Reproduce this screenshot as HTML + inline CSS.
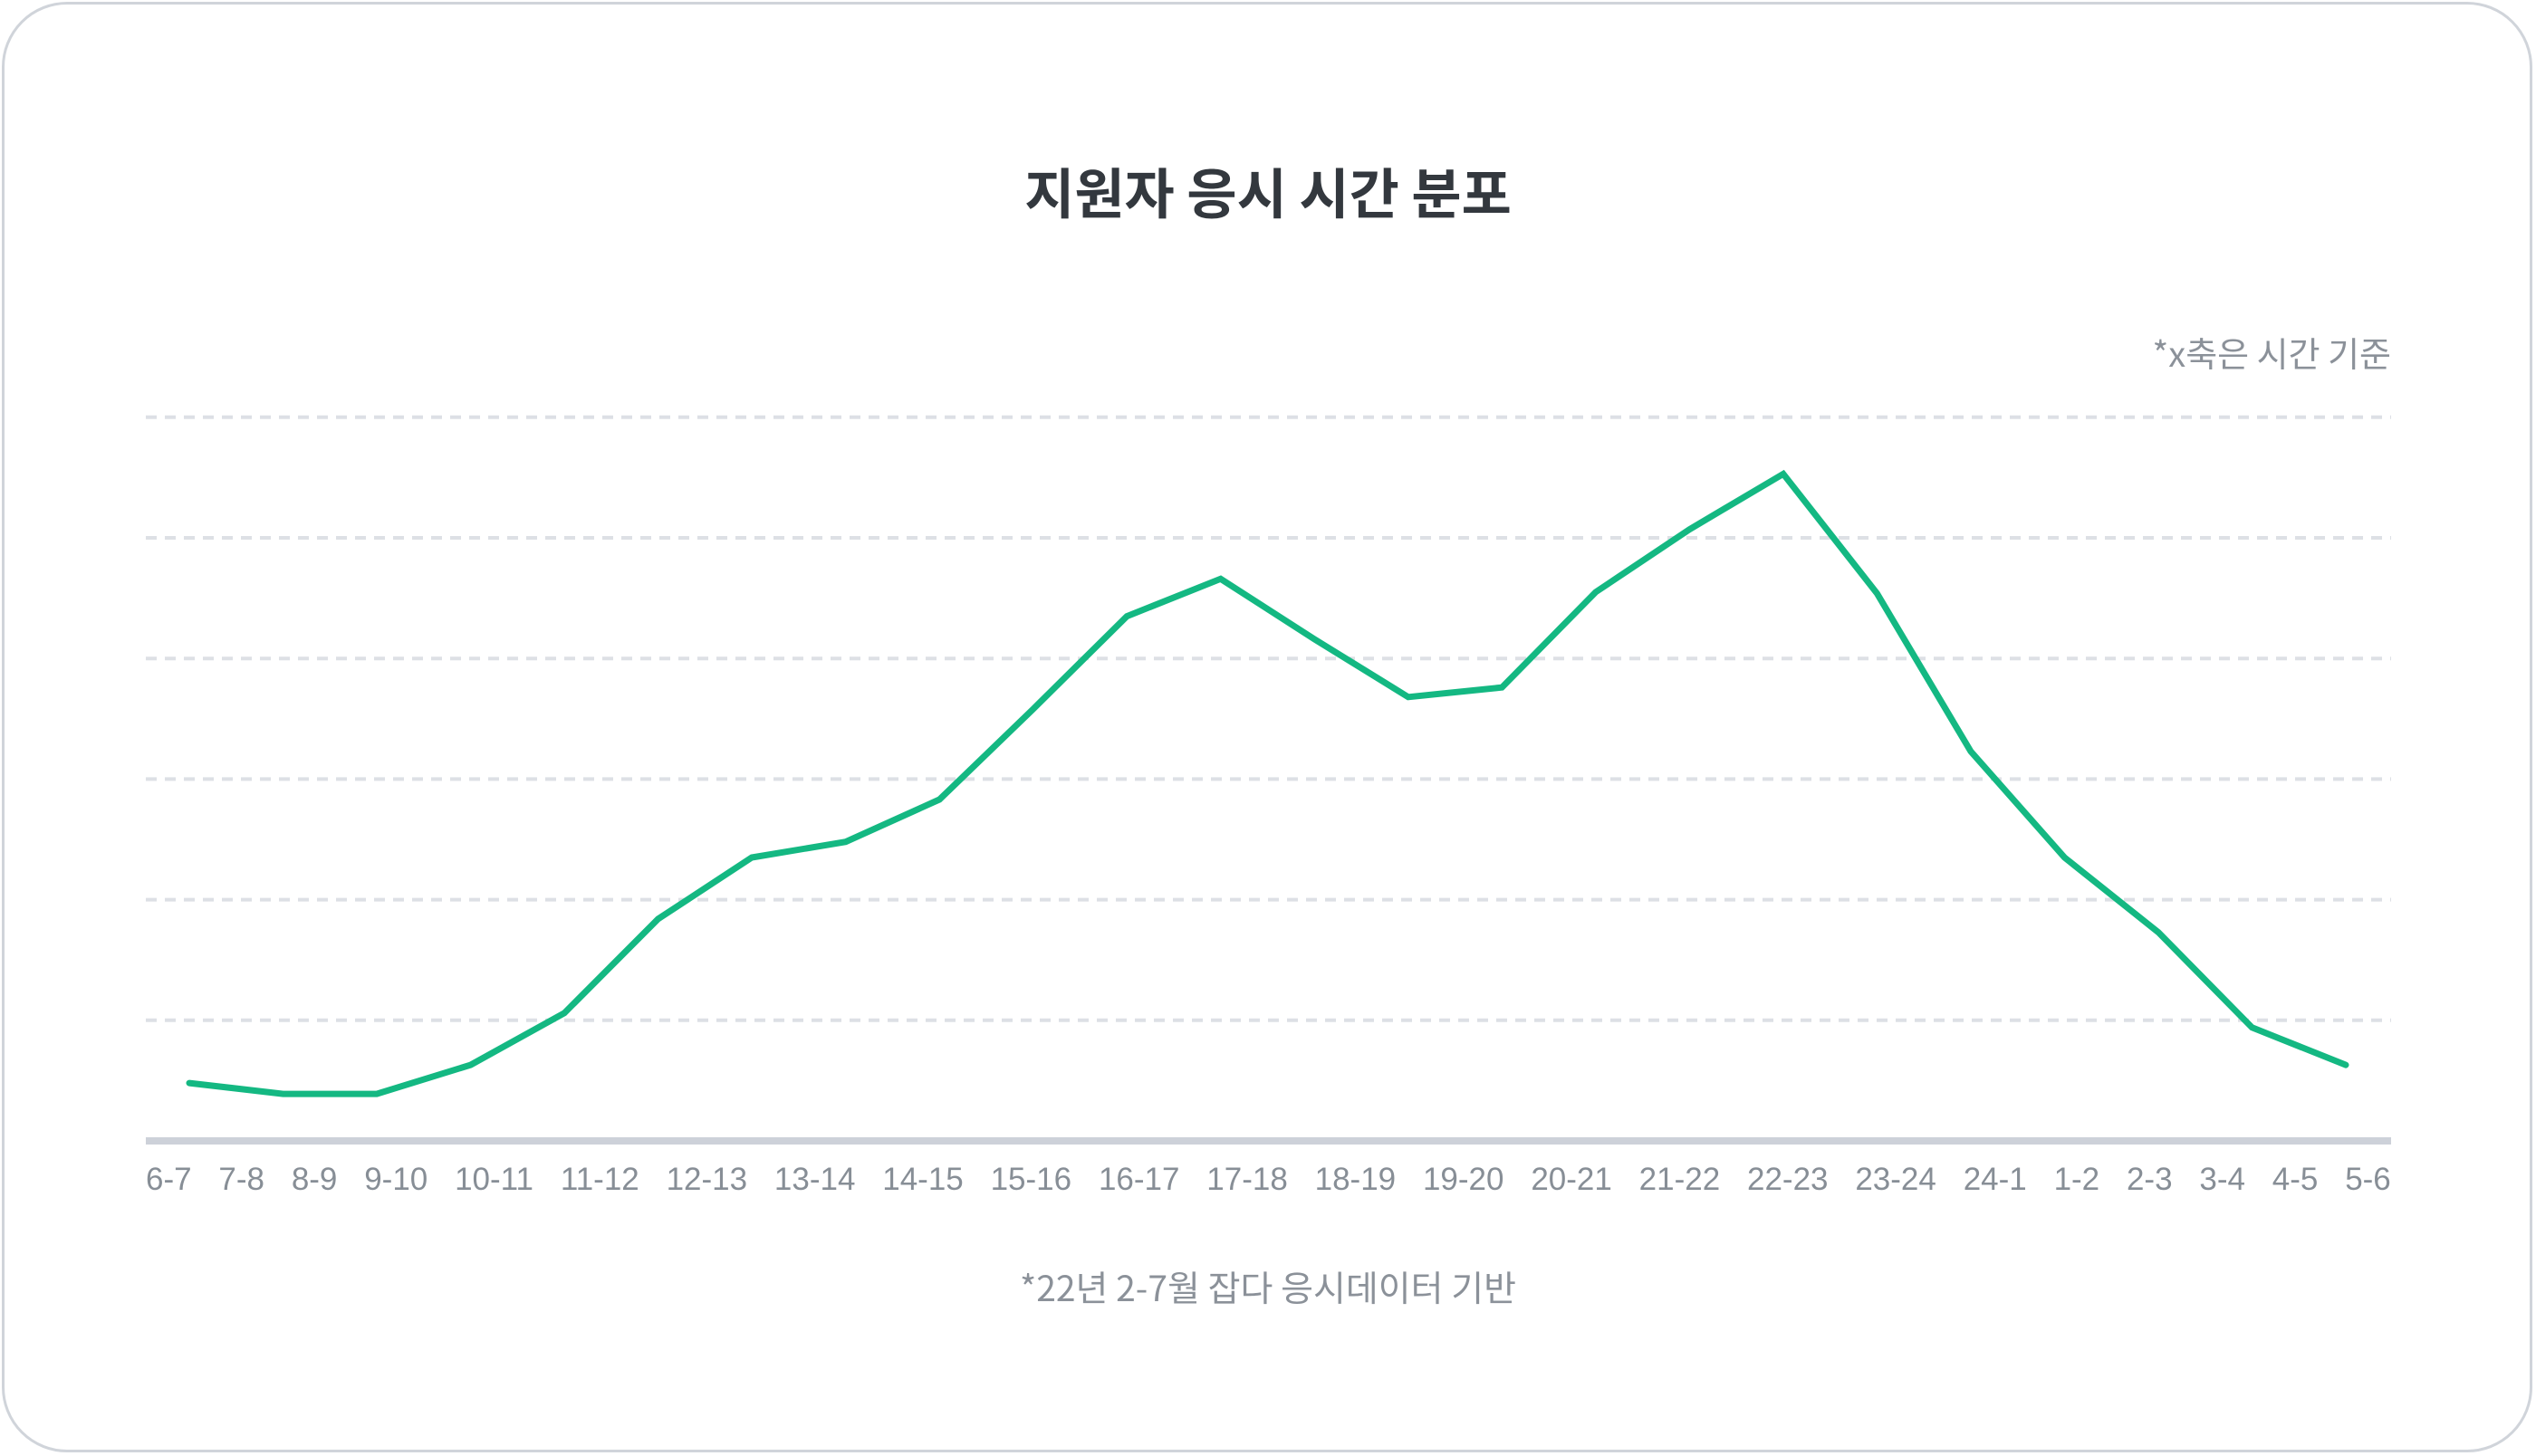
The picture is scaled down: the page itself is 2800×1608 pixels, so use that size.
<!DOCTYPE html>
<html><head><meta charset="utf-8"><style>
html,body{margin:0;padding:0;background:#fff;}
body{width:2800px;height:1608px;position:relative;overflow:hidden;font-family:"Liberation Sans","Noto Sans CJK KR",sans-serif;}
.card{position:absolute;left:2px;top:2px;width:2794px;height:1602px;border:3px solid #d0d4da;border-radius:72px;box-sizing:border-box;}
.title{position:absolute;left:0;width:2800px;top:171px;text-align:center;font-size:60px;font-weight:bold;color:#33383e;font-family:"Noto Sans CJK KR",sans-serif;line-height:80px;}
.note{position:absolute;right:160px;top:362px;font-size:38px;color:#8b9199;font-family:"Noto Sans CJK KR",sans-serif;line-height:54px;}
.foot{position:absolute;left:0;width:2800px;top:1394px;text-align:center;font-size:39px;color:#8b9199;font-family:"Noto Sans CJK KR",sans-serif;line-height:54px;}
.labels{position:absolute;left:161px;width:2479px;top:1281px;display:flex;justify-content:space-between;font-size:35px;color:#878e96;line-height:44px;}
svg{position:absolute;left:0;top:0;}
</style></head><body>
<div class="card"></div>
<div class="title">지원자 응시 시간 분포</div>
<div class="note">*x축은 시간 기준</div>
<svg id="chart" width="2800" height="1608"></svg>
<div class="labels" id="labels"></div>
<div class="foot">*22년 2-7월 잡다 응시데이터 기반</div>
<script>
const categories = ["6-7","7-8","8-9","9-10","10-11","11-12","12-13","13-14","14-15","15-16","16-17","17-18","18-19","19-20","20-21","21-22","22-23","23-24","24-1","1-2","2-3","3-4","4-5","5-6"];
const values = [0.48,0.39,0.39,0.63,1.06,1.84,2.35,2.48,2.83,3.58,4.35,4.66,4.16,3.68,3.76,4.55,5.07,5.53,4.54,3.23,2.35,1.73,0.94,0.63];
const gridTicks = [1,2,3,4,5,6];

const NS = "http://www.w3.org/2000/svg";
const svg = document.getElementById('chart');
const x0 = 161, x1 = 2640, y0 = 1260, unit = 133.2;
const px0 = 209, px1 = 2590;
function xScale(i){ return px0 + (px1 - px0) * i / (categories.length - 1); }
function yScale(v){ return y0 - v * unit; }

gridTicks.forEach(function(t){
  const l = document.createElementNS(NS,'line');
  
  
  l.setAttribute('x1', x0); l.setAttribute('x2', x1);
  l.setAttribute('y1', yScale(t)); l.setAttribute('y2', yScale(t));
  l.setAttribute('stroke', '#dde0e5'); l.setAttribute('stroke-width', '4');
  l.setAttribute('stroke-dasharray', '12 9');
  svg.appendChild(l);
});
const ax = document.createElementNS(NS,'line');


ax.setAttribute('x1', x0); ax.setAttribute('x2', x1);
ax.setAttribute('y1', y0); ax.setAttribute('y2', y0);
ax.setAttribute('stroke', '#cdd1d9'); ax.setAttribute('stroke-width', '8');
svg.appendChild(ax);

const pts = values.map(function(v,i){ return xScale(i).toFixed(1) + ',' + yScale(v).toFixed(1); }).join(' ');
const pl = document.createElementNS(NS,'polyline');


pl.setAttribute('points', pts);
pl.setAttribute('fill', 'none');
pl.setAttribute('stroke', '#14b882');
pl.setAttribute('stroke-width', '7');
pl.setAttribute('stroke-linecap', 'round');
pl.setAttribute('stroke-linejoin', 'miter');
svg.appendChild(pl);

const lab = document.getElementById('labels');
categories.forEach(function(c){
  const s = document.createElement('span');
  
  
  s.textContent = c;
  lab.appendChild(s);
});
</script>
</body></html>
